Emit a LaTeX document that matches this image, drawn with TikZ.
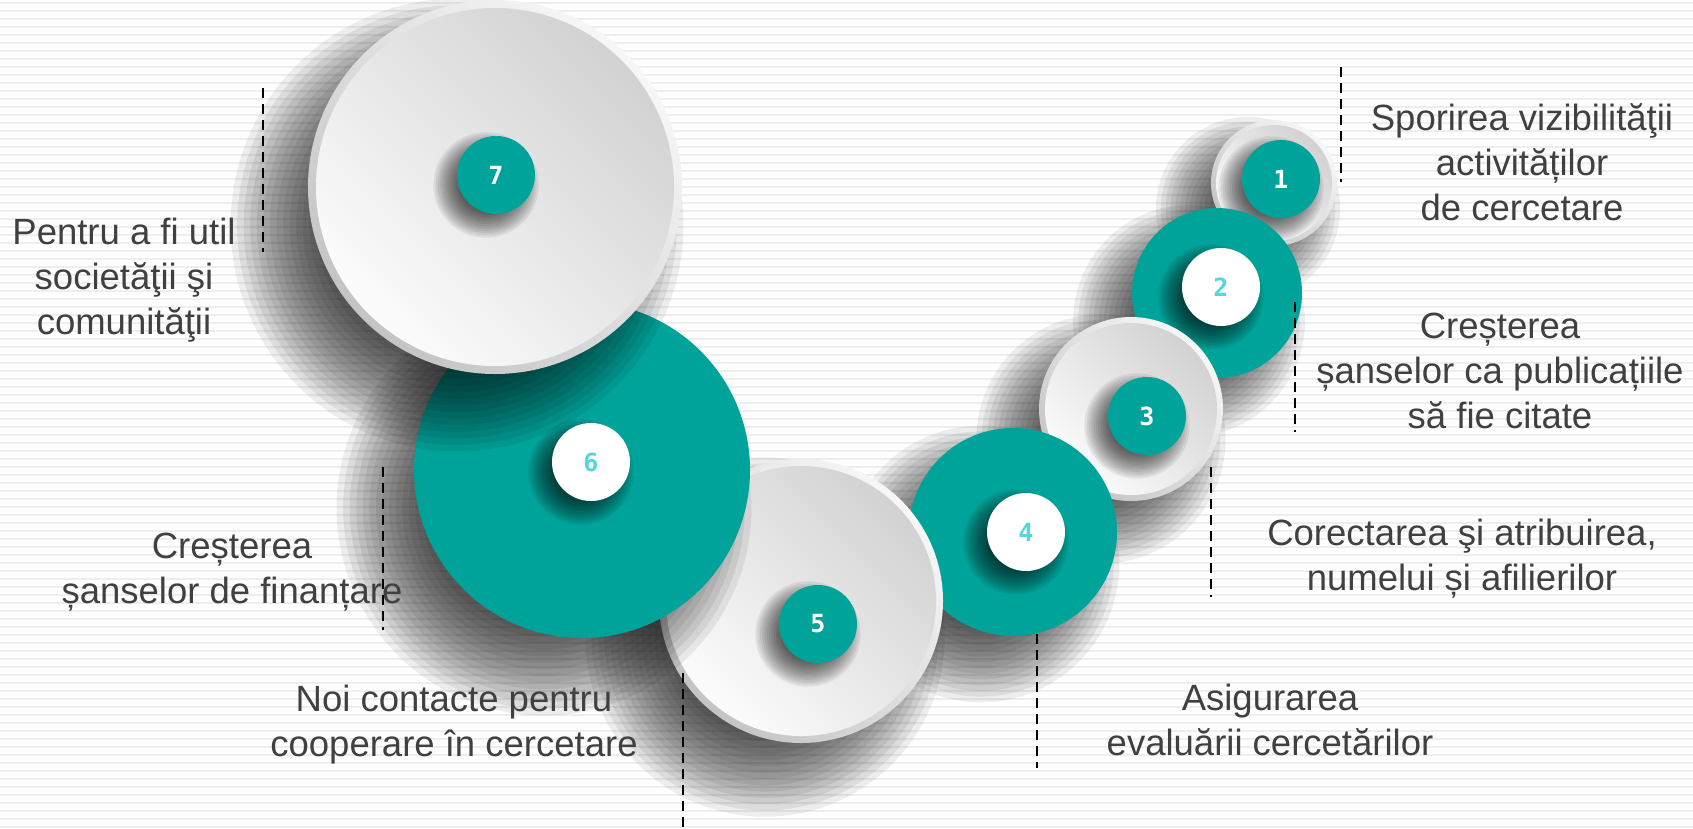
\documentclass[tikz,border=0pt]{standalone}
\usepackage{fontspec}
\setmainfont{Liberation Sans}
\newfontfamily\digitfont{DejaVu Sans Mono}
\usepackage{tikz}
\definecolor{c_teal}{HTML}{00A39A}
\definecolor{c_cyan}{HTML}{55D6DD}
\definecolor{c_text}{HTML}{404040}
\definecolor{c_stripe}{HTML}{EEEEEE}
\definecolor{c_rimlight}{HTML}{F7F7F7}
\definecolor{c_rimdark}{HTML}{C4C4C4}
\definecolor{c_facelight}{HTML}{FCFCFC}
\definecolor{c_facedark}{HTML}{D2D2D2}
% soft shadow: centre x, centre y, radius, offset, blur
\newcommand\softshade[5]{%
    \foreach \k in {1,...,14}
        \fill[black, opacity=0.07] (#1-#4,#2+#4)
            circle[radius={(#3+#5-2*#5*\k/14)*1pt}];}

\begin{document}
\begin{tikzpicture}[
        x=1pt, y=-1pt,
        every node/.style={inner sep=0pt, outer sep=0pt},
        tealdisc/.style={circle, fill=c_teal, minimum size=#1pt},
        rimdisc/.style={circle, minimum size=#1pt, top color=c_rimlight,
            bottom color=c_rimdark, shading angle=-45},
        facedisc/.style={circle, minimum size=#1pt, top color=c_facedark,
            bottom color=c_facelight, shading angle=-45},
        numteal/.style={circle, fill=c_teal, minimum size=78pt, text=white,
            font=\digitfont\bfseries\fontsize{25}{25}\selectfont},
        numwhite/.style={circle, fill=white, minimum size=78pt, text=c_cyan,
            font=\digitfont\bfseries\fontsize{25}{25}\selectfont},
        txt/.style={align=center, text=c_text, font=\fontsize{36.5}{45}\selectfont},
        guide/.style={black, line width=2.2pt, dash pattern=on 10pt off 6pt},
        stripe/.style={c_stripe, line width=2pt}
    ]
    \fill[white] (0,0) rectangle (1693,828);
    \useasboundingbox (0,0) rectangle (1693,828);
    \foreach \y in {3,11,...,827}
        \draw[stripe] (0,\y) -- (1693,\y);

    % discs, back to front
    \softshade{1274}{183}{63}{26}{34}
    \node[rimdisc=126] (d1) at (1274,183) {};
    \node[facedisc=116] (f1) at (d1) {};
    \softshade{1281}{179}{39}{10}{16}
    \node[numteal] (n1) at (1281,179) {1};

    \softshade{1217}{293}{85}{28}{36}
    \node[tealdisc=170] (d2) at (1217,293) {};
    \softshade{1221}{287}{39}{10}{16}
    \node[numwhite] (n2) at (1221,287) {2};

    \softshade{1131}{409}{92}{30}{38}
    \node[rimdisc=184] (d3) at (1131,409) {};
    \node[facedisc=172] (f3) at (d3) {};
    \softshade{1147}{416}{39}{10}{16}
    \node[numteal] (n3) at (1147,416) {3};

    \softshade{1013}{532}{104}{32}{40}
    \node[tealdisc=208] (d4) at (1013,532) {};
    \softshade{1026}{532}{39}{10}{16}
    \node[numwhite] (n4) at (1026,532) {4};

    \softshade{801}{601}{142}{36}{44}
    \node[rimdisc=284] (d5) at (801,601) {};
    \node[facedisc=270] (f5) at (d5) {};
    \softshade{818}{624}{39}{10}{16}
    \node[numteal] (n5) at (818,624) {5};

    \softshade{582}{470}{168}{38}{46}
    \node[tealdisc=336] (d6) at (582,470) {};
    \softshade{591}{462}{39}{10}{16}
    \node[numwhite] (n6) at (591,462) {6};

    \softshade{495}{187}{187}{38}{46}
    \node[rimdisc=374] (d7) at (495,187) {};
    \node[facedisc=358] (f7) at (d7) {};
    \softshade{496}{175}{39}{10}{16}
    \node[numteal] (n7) at (496,175) {7};

    % texts
    \node[txt] (t1) at (1522,162) {Sporirea vizibilităţii\\activităților\\de cercetare};
    \node[txt] (t2) at (1500,371) {Creșterea\\șanselor ca publicațiile\\să fie citate};
    \node[txt] (t3) at (1462,559) {Corectarea şi atribuirea,\\numelui și afilierilor};
    \node[txt] (t4) at (1270,720) {Asigurarea\\evaluării cercetărilor};
    \node[txt] (t5) at (454,725) {Noi contacte pentru\\cooperare în cercetare};
    \node[txt] (t6) at (232,572) {Creșterea\\șanselor de finanțare};
    \node[txt] (t7) at (124,280) {Pentru a fi util\\societăţii şi\\comunităţii};

    % dashed guides
    \foreach \i/\x/\ya/\yb in {1/1341/67/182, 2/1295/302/432, 3/1211/467/597,
            4/1037/634/768, 5/683/673/828, 6/383/467/630, 7/263/88/252} {
        \coordinate (g\i t) at (\x,\ya);
        \coordinate (g\i b) at (\x,\yb);
        \draw[guide] (g\i t) -- (g\i b);
    }
\end{tikzpicture}
\end{document}
